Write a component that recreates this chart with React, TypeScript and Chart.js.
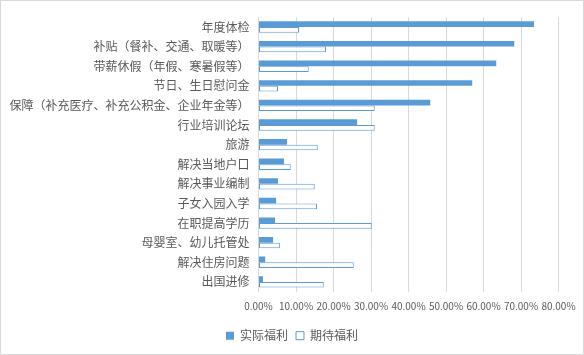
import React, { useEffect, useRef } from "react";
import { Chart, registerables } from "chart.js";

Chart.register(...registerables);

const categories = [
  "年度体检",
  "补贴（餐补、交通、取暖等）",
  "带薪休假（年假、寒暑假等）",
  "节日、生日慰问金",
  "保障（补充医疗、补充公积金、企业年金等）",
  "行业培训论坛",
  "旅游",
  "解决当地户口",
  "解决事业编制",
  "子女入园入学",
  "在职提高学历",
  "母婴室、幼儿托管处",
  "解决住房问题",
  "出国进修",
];

const actualBenefits = [73.5, 68.2, 63.4, 57.0, 45.8, 26.3, 7.6, 6.8, 5.2, 4.7, 4.4, 3.9, 1.8, 1.2];
const expectedBenefits = [10.8, 18.0, 13.4, 5.2, 31.0, 31.0, 15.8, 8.6, 15.0, 15.6, 30.2, 5.7, 25.4, 17.4];

const seriesNames = ["实际福利", "期待福利"];
const xMin = 0;
const xMax = 80;
const xStep = 10;

const BLUE = "#5B9BD5";
const GRID = "#d9d9d9";
const TEXT = "#595959";
const FONT = '"Noto Sans CJK SC", "Noto Sans", sans-serif';

export default function App() {
  const ref = useRef<HTMLCanvasElement | null>(null);

  useEffect(() => {
    if (!ref.current) return;
    const chart = new Chart(ref.current, {
      type: "bar",
      data: {
        labels: categories,
        datasets: [
          {
            label: seriesNames[0],
            data: actualBenefits,
            backgroundColor: BLUE,
            borderColor: BLUE,
            borderWidth: 0,
            categoryPercentage: 0.58,
            barPercentage: 1,
          },
          {
            label: seriesNames[1],
            data: expectedBenefits,
            backgroundColor: "#ffffff",
            borderColor: BLUE,
            borderWidth: 1,
            borderSkipped: false,
            categoryPercentage: 0.58,
            barPercentage: 1,
          },
        ],
      },
      options: {
        indexAxis: "y",
        responsive: false,
        animation: false,
        layout: { padding: { top: 15, right: 0, left: 0, bottom: 2.3 } },
        plugins: {
          tooltip: { enabled: false },
          legend: {
            position: "bottom",
            labels: {
              boxWidth: 8,
              boxHeight: 8,
              padding: 8,
              color: TEXT,
              font: { family: FONT, size: 12 },
            },
          },
        },
        scales: {
          x: {
            min: xMin,
            max: xMax,
            grid: { color: GRID, drawTicks: false, lineWidth: 1 },
            border: { display: false },
            ticks: {
              stepSize: xStep,
              padding: 9,
              color: TEXT,
              font: { family: FONT, size: 10 },
              maxRotation: 0,
              autoSkip: false,
              callback: (v: any) => Number(v).toFixed(2) + "%",
            },
            afterFit: (s: any) => {
              s.height = 30;
              s.paddingRight = 24.5;
            },
          },
          y: {
            grid: { display: false, drawTicks: false },
            border: { display: true, color: GRID },
            ticks: {
              padding: 9,
              color: TEXT,
              font: { family: FONT, size: 12 },
              autoSkip: false,
            },
            afterFit: (s: any) => {
              s.width = 257.5;
            },
          },
        },
      },
    });
    return () => chart.destroy();
  }, []);

  return (
    <div
      style={{
        position: "absolute",
        left: 0,
        top: 0,
        width: 584,
        height: 355,
        boxSizing: "border-box",
        border: "1px solid #d9d9d9",
        background: "#fff",
      }}
    >
      <canvas ref={ref} width={582} height={353} style={{ display: "block" }} />
    </div>
  );
}
